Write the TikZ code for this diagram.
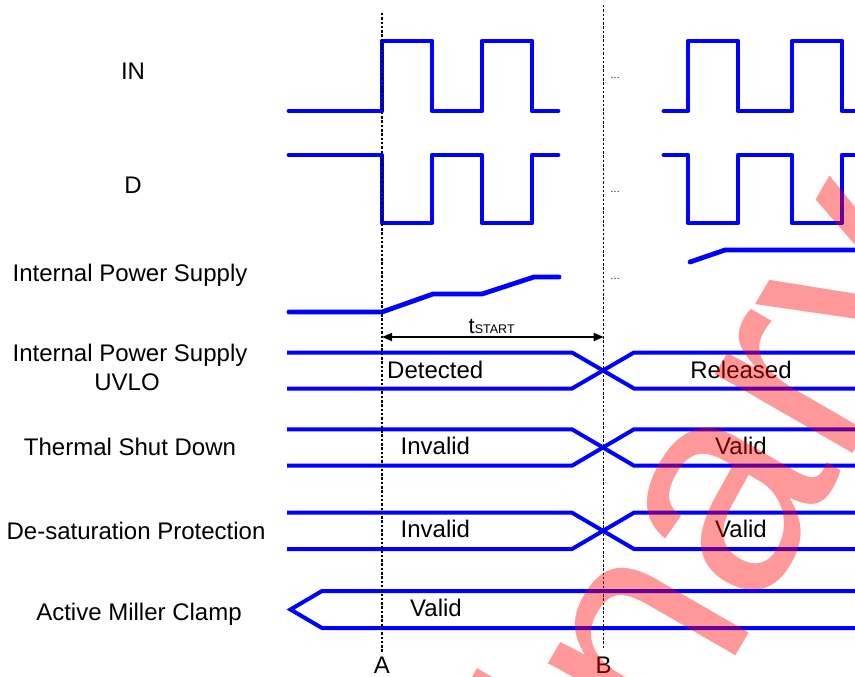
\documentclass[tikz,border=0pt]{standalone}
\usepackage{fontspec}
\setmainfont{Liberation Sans}
\usetikzlibrary{arrows.meta}
\begin{document}
\begin{tikzpicture}[x=1pt,y=-1pt,
  sig/.style={blue, line width=4.8pt, line join=round, line cap=round},
  bus/.style={blue, line width=4pt, line join=miter},
  marker/.style={black, line width=1.3pt, dash pattern=on 2.5pt off 1.8pt},
  lbl/.style={font=\fontsize{24}{29}\selectfont, inner sep=0pt, anchor=base},
  txt/.style={font=\fontsize{24}{29}\selectfont, inner sep=0pt},
  dots/.style={font=\fontsize{10}{12}\selectfont, inner sep=0pt, anchor=base west},
  tarrow/.style={black, line width=1.5pt, {Triangle[length=10pt,width=8pt]}-{Triangle[length=10pt,width=8pt]}},
  wmark/.style={rotate=60, anchor=base west, text=red, text opacity=0.4, inner sep=0pt, font=\fontsize{300}{300}\selectfont}
]
\useasboundingbox (0,0) rectangle (855,677);

% row labels
\node[lbl] (lIN) at (133,80) {IN};
\node[lbl] (lD) at (133,193) {D};
\node[lbl] (lIPS) at (130,281) {Internal Power Supply};
\node[lbl] (lUV1) at (130,361) {Internal Power Supply};
\node[lbl] (lUV2) at (127,390) {UVLO};
\node[lbl] (lTSD) at (130,455) {Thermal Shut Down};
\node[lbl] (lDS) at (136,539) {De-saturation Protection};
\node[lbl] (lAMC) at (139,620) {Active Miller Clamp};

% IN
\draw[sig] (289,111) -- (382,111) -- (382,41) -- (432,41) -- (432,111) -- (482,111) -- (482,41) -- (532,41) -- (532,111) -- (558,111);
\draw[sig] (664,111) -- (688,111) -- (688,41) -- (738,41) -- (738,111) -- (792,111) -- (792,41) -- (842,41) -- (842,111) -- (862,111);
% D
\draw[sig] (289,155) -- (382,155) -- (382,223) -- (432,223) -- (432,155) -- (482,155) -- (482,223) -- (532,223) -- (532,155) -- (558,155);
\draw[sig] (664,155) -- (688,155) -- (688,223) -- (738,223) -- (738,155) -- (792,155) -- (792,223) -- (842,223) -- (842,155) -- (862,155);
% Internal power supply
\draw[sig] (289,312) -- (382,312) -- (433,294) -- (482,294) -- (534,277) -- (559,277);
\draw[sig] (690,262) -- (725,250) -- (862,250);

% dots
\node[dots] (d1) at (610,79) {…};
\node[dots] (d2) at (610,192) {…};
\node[dots] (d3) at (610,279) {…};

% UVLO
\draw[bus] (287,352.5) -- (572,352.5) -- (634,388.5) -- (860,388.5);
\draw[bus] (287,388.5) -- (572,388.5) -- (634,352.5) -- (860,352.5);
% Thermal
\draw[bus] (287,429.3) -- (572,429.3) -- (634,465.7) -- (860,465.7);
\draw[bus] (287,465.7) -- (572,465.7) -- (634,429.3) -- (860,429.3);
% Desat
\draw[bus] (287,512.7) -- (572,512.7) -- (634,549) -- (860,549);
\draw[bus] (287,549) -- (572,549) -- (634,512.7) -- (860,512.7);
% Miller clamp
\draw[bus] (860,591) -- (322,591) -- (290.5,609.5) -- (322,628) -- (860,628);

% state texts
\node[txt, anchor=base west] (tDet) at (387,378) {Detected};
\node[txt, anchor=base] (tRel) at (741,378) {Released};
\node[txt, anchor=base west] (tInv1) at (400.5,454) {Invalid};
\node[txt, anchor=base] (tVal1) at (741,454) {Valid};
\node[txt, anchor=base west] (tInv2) at (400.5,537) {Invalid};
\node[txt, anchor=base] (tVal2) at (741,537) {Valid};
\node[txt, anchor=base west] (tVal3) at (410,616) {Valid};

% markers
\coordinate (Atop) at (382,13);
\coordinate (Abot) at (382,652);
\coordinate (Btop) at (603.7,5);
\coordinate (Bbot) at (603.7,650);
\draw[marker] (Atop) -- (Abot);
\draw[marker] (Btop) -- (Bbot);
\node[txt, anchor=base] (lA) at (382,673) {A};
\node[txt, anchor=base] (lB) at (603.7,673) {B};

% tSTART
\coordinate (tsA) at (382,337);
\coordinate (tsB) at (603.7,337);
\draw[tarrow] (tsA) -- (tsB);
\node[inner sep=0pt, anchor=base west] (tst) at (468.5,333) {\fontsize{22}{24}\selectfont t\fontsize{12.5}{14}\selectfont START};

% watermark
\node[wmark] (wm) at (217,1554) {Preliminary};
\end{tikzpicture}
\end{document}
